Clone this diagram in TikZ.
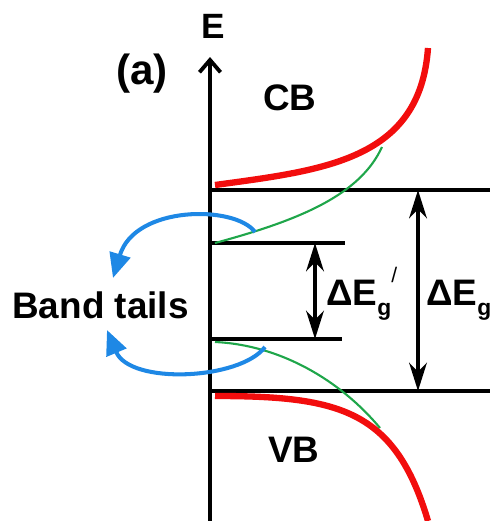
\documentclass[tikz,border=0pt]{standalone}
\usepackage{fontspec}
\setmainfont{Liberation Sans}
\usepackage{tikz}
\usetikzlibrary{arrows.meta,positioning}
\definecolor{bandred}{HTML}{F20D0D}
\definecolor{tailgreen}{HTML}{1FA64A}
\definecolor{loopblue}{HTML}{1E88E5}

\begin{document}
\begin{tikzpicture}[x=0.02cm,y=-0.02cm,
  axis/.style={line width=2.3pt,-{Straight Barb[length=7pt,width=12pt,line width=2.2pt]}},
  level/.style={line width=2.3pt},
  band/.style={line width=3.6pt,bandred},
  tail/.style={line width=1.2pt,tailgreen},
  gap/.style={line width=2.3pt,{Stealth[length=16pt,width=10pt,inset=5pt]}-{Stealth[length=16pt,width=10pt,inset=5pt]}},
  loop/.style={line width=2.3pt,loopblue,-{Triangle[length=14pt,width=12pt]}},
  lab/.style={font=\bfseries\fontsize{21}{21}\selectfont,inner sep=0pt}
]
\useasboundingbox (0,0) rectangle (490,521);
% energy axis
\coordinate (orig) at (210,521);
\coordinate (etop) at (210,57);
\draw[axis] (orig) -- (etop);
\node[lab,font=\bfseries\fontsize{20}{20}\selectfont,anchor=base] (elab) at (213,38) {E};
\node[lab,font=\bfseries\fontsize{24}{24}\selectfont] (panel) at (142,74) {(a)};
% band edges
\coordinate (cbl) at (210,190);  \coordinate (cbr) at (490,190);
\coordinate (vbl) at (210,391);  \coordinate (vbr) at (490,391);
\coordinate (ctl) at (210,243);  \coordinate (ctr) at (345,243);
\coordinate (vtl) at (210,339);  \coordinate (vtr) at (342,339);
\draw[level] (cbl) -- (cbr);
\draw[level] (vbl) -- (vbr);
\draw[level] (ctl) -- (ctr);
\draw[level] (vtl) -- (vtr);
% densities of states
\draw[band] (215,185) .. controls (325,170) and (420,160) .. (428,48);
\draw[band] (215,396) .. controls (340,396) and (395,410) .. (428,521);
\draw[tail] (215,243) .. controls (300,220) and (360,195) .. (382,147);
\draw[tail] (215,342) .. controls (280,345) and (340,380) .. (380,428);
% gaps
\coordinate (ga) at (315,243); \coordinate (gb) at (315,339);
\coordinate (Ga) at (418,190); \coordinate (Gb) at (418,391);
\draw[gap] (ga) -- (gb);
\draw[gap] (Ga) -- (Gb);
\node[lab,anchor=base west] (gsmall) at (326,305)
  {ΔE\raisebox{-6pt}{\fontsize{13}{13}\selectfont g}\raisebox{13pt}{\mdseries\fontsize{12}{12}\selectfont /}};
\node[lab,anchor=base west] (gbig) at (426,305)
  {ΔE\raisebox{-6pt}{\fontsize{13}{13}\selectfont g}};
% band labels
\node[lab,anchor=base west] (cb) at (263,110) {CB};
\node[lab,anchor=base west] (vb) at (268,462) {VB};
\node[lab,anchor=base west] (tails) at (12,318) {Band tails};
% tails arrows
\coordinate (tup) at (255,232);
\coordinate (tdn) at (265,347);
\draw[loop] (tup) .. controls (235,205) and (135,205) .. (113,278);
\draw[loop] (tdn) .. controls (240,380) and (130,385) .. (107,330);
\end{tikzpicture}
\end{document}
